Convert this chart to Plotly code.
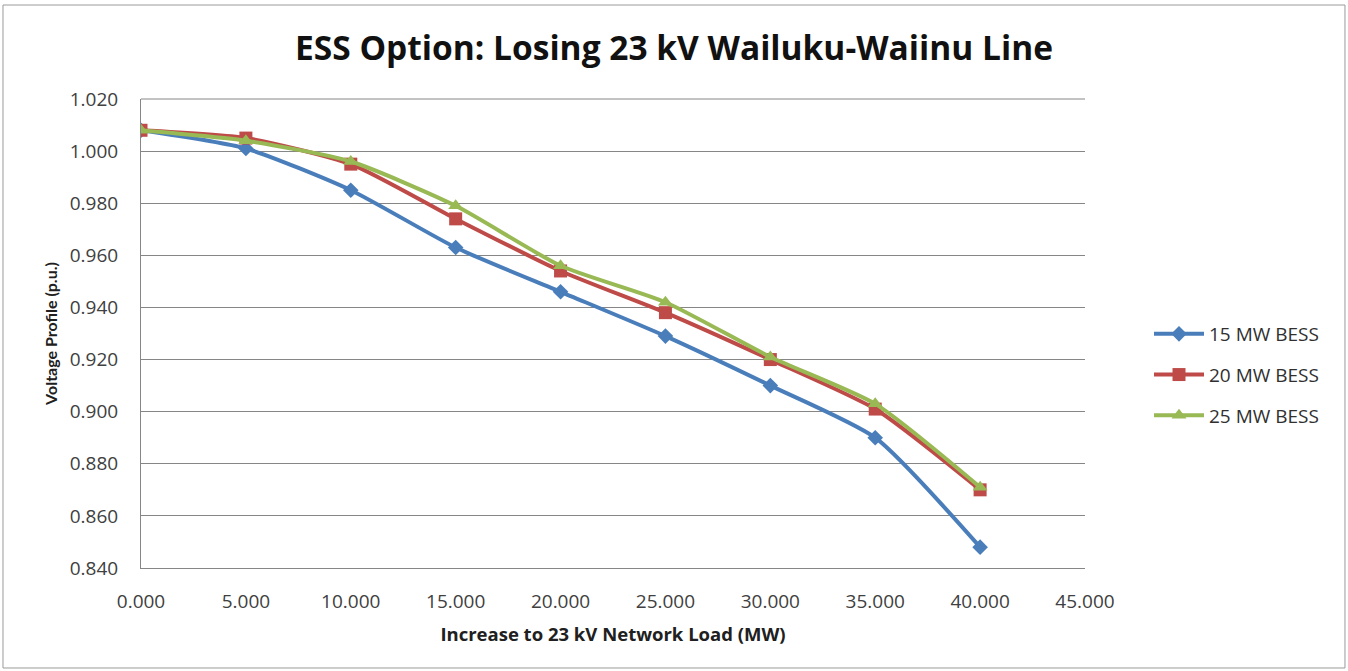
import plotly.graph_objects as go

# Increase to 23 kV network load (MW)
load_mw = [0, 5, 10, 15, 20, 25, 30, 35, 40]

# Voltage profile (p.u.) for each storage size
bess_15 = [1.008, 1.001, 0.985, 0.963, 0.946, 0.929, 0.910, 0.890, 0.848]
bess_20 = [1.008, 1.005, 0.995, 0.974, 0.954, 0.938, 0.920, 0.901, 0.870]
bess_25 = [1.008, 1.004, 0.996, 0.979, 0.956, 0.942, 0.921, 0.903, 0.871]

series_names = ["15 MW BESS", "20 MW BESS", "25 MW BESS"]
series_colors = ["#4A7EBB", "#BE4B48", "#98B954"]
series_symbols = ["diamond", "square", "triangle-up"]
series_sizes = [12, 13, 13]

wide_font = "'Open Sans', Lato, sans-serif"
narrow_font = "Lato, 'Open Sans', sans-serif"

fig = go.Figure()
for name, vals, color, sym, size in zip(series_names, [bess_15, bess_20, bess_25],
                                        series_colors, series_symbols, series_sizes):
    fig.add_trace(go.Scatter(
        x=load_mw, y=vals, name=name, legendgroup=name, mode="lines+markers",
        line=dict(color=color, width=4, shape="spline", smoothing=0.6),
        marker=dict(symbol=sym, size=size, color=color),
    ))

fig.update_layout(
    width=1348, height=671,
    paper_bgcolor="white", plot_bgcolor="white",
    margin=dict(l=141, r=263, t=99, b=103),
    title=dict(
        text="<b>ESS Option: Losing 23 kV Wailuku-Waiinu Line</b>",
        x=0.5, xref="container", xanchor="center",
        y=1 - 48 / 671, yref="container", yanchor="middle",
        font=dict(family=wide_font, size=33.5, color="#111111"),
    ),
    font=dict(family=wide_font, size=18, color="#404040"),
    showlegend=True,
    legend=dict(
        x=1.0678, xanchor="left", y=0.4115, yanchor="middle",
        font=dict(family=wide_font, size=19, color="#303030"),
        itemwidth=50, traceorder="grouped", tracegroupgap=13,
        bgcolor="rgba(0,0,0,0)",
    ),
    xaxis=dict(
        range=[0, 45], dtick=5, tick0=0, tickformat=".3f",
        showgrid=False, zeroline=False,
        showline=True, linecolor="#868686", linewidth=1,
        ticks="", ticklabelstandoff=16,
        tickfont=dict(family=wide_font, size=19, color="#404040"),
        title=dict(text="<b>Increase to 23 kV Network Load (MW)</b>",
                   font=dict(family=wide_font, size=18.5, color="#202020"), standoff=15),
    ),
    yaxis=dict(
        range=[0.84, 1.02], dtick=0.02, tick0=0.84, tickformat=".3f",
        showgrid=True, gridcolor="#868686", gridwidth=1, zeroline=False,
        showline=True, linecolor="#868686", linewidth=1,
        ticks="", ticklabelstandoff=18,
        tickfont=dict(family=wide_font, size=19, color="#404040"),
        title=dict(text="<b>Voltage Profile (p.u.)</b>",
                   font=dict(family=narrow_font, size=16, color="#202020"), standoff=8),
    ),
    shapes=[
        # top border of the plot area
        dict(type="line", xref="paper", yref="paper", x0=0, x1=1, y0=1, y1=1,
             line=dict(color="#868686", width=1)),
        # outer chart frame
        dict(type="rect", xref="paper", yref="paper",
             x0=-0.1462, x1=1.2754, y0=-0.2132, y1=1.2004,
             line=dict(color="#9A9A9A", width=1)),
    ],
)

fig.write_html("out.html")
